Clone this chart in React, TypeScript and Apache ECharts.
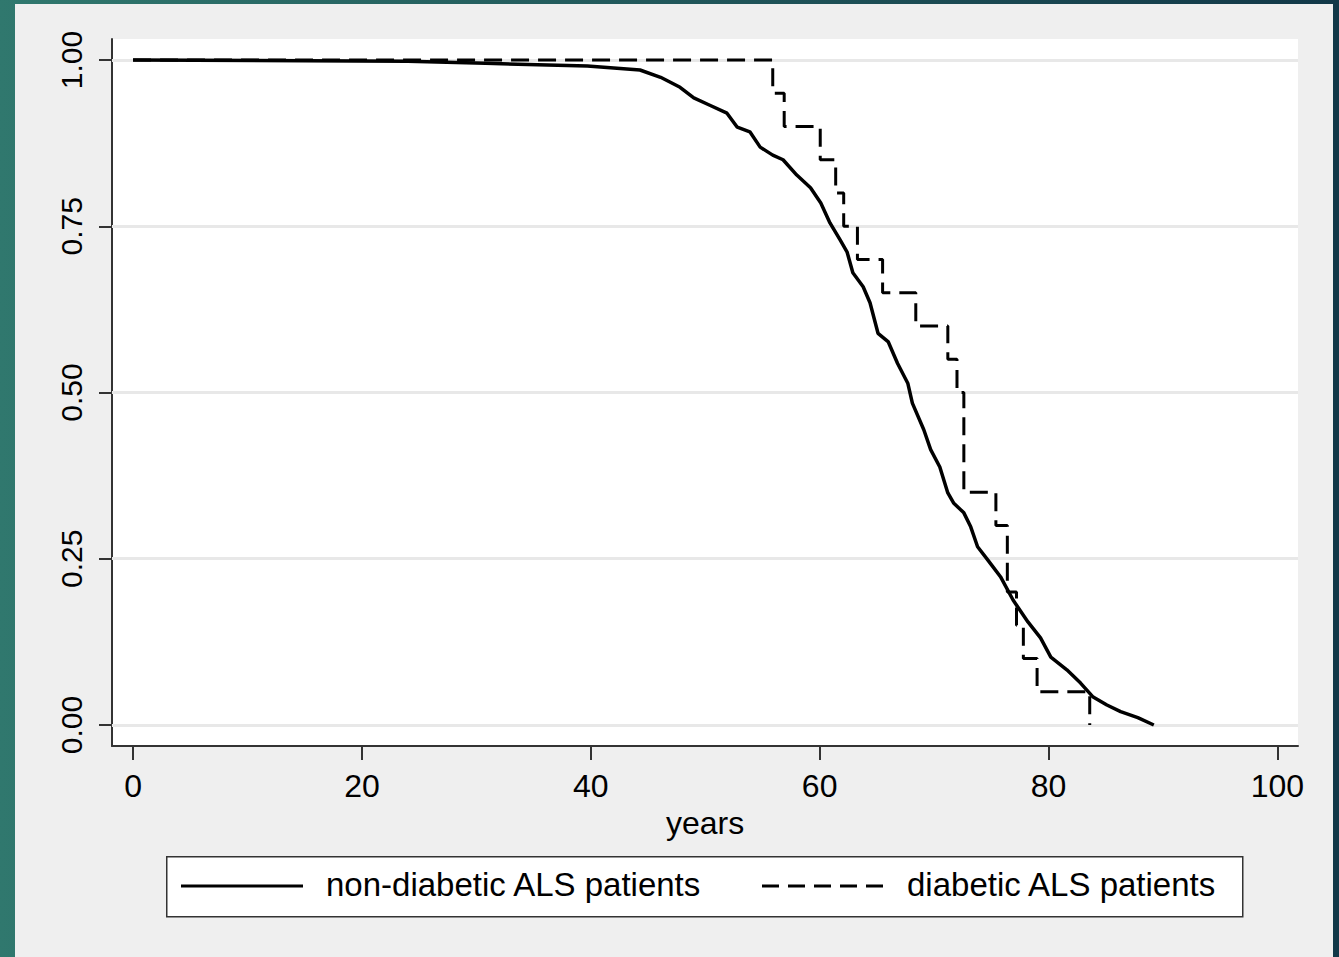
import React, { useEffect, useRef } from "react";
import * as echarts from "echarts";

const xTicks = [0, 20, 40, 60, 80, 100];
const yTicks = [0, 0.25, 0.5, 0.75, 1];
const seriesNames = ["non-diabetic ALS patients", "diabetic ALS patients"];
const xAxisTitle = "years";

const nonDiabeticYears = [
  0, 24, 30.8, 39.7, 42, 44.3, 46.1, 47.8, 49.0, 50.4, 51.9, 52.8, 53.9, 54.8, 55.9, 56.8,
  58.0, 59.2, 60.1, 60.9, 61.8, 62.4, 62.9, 63.8, 64.4, 65.1, 66.0, 66.8, 67.7, 68.1, 69.1,
  69.7, 70.5, 71.2, 71.7, 72.6, 73.2, 73.8, 74.7, 75.8, 76.9, 78.2, 79.3, 80.2, 81.6, 82.8,
  83.9, 85.1, 86.3, 87.8, 89.2,
];
const nonDiabeticSurv = [
  1.0, 0.998, 0.995, 0.991, 0.988, 0.985, 0.974, 0.959, 0.943, 0.932, 0.92, 0.899, 0.892,
  0.869, 0.857, 0.85, 0.827, 0.808, 0.785, 0.755, 0.729, 0.711, 0.68, 0.659, 0.635, 0.589,
  0.576, 0.544, 0.514, 0.484, 0.444, 0.414, 0.388, 0.349, 0.334, 0.319, 0.298, 0.268, 0.248,
  0.223, 0.188, 0.155, 0.131, 0.102, 0.083, 0.063, 0.042, 0.03, 0.02, 0.011, 0.0,
];

const diabeticYears = [
  0, 55.9, 56.9, 60.05, 61.4, 62.1, 63.3, 65.5, 68.4, 71.2, 72.0, 72.6, 75.4, 76.4, 77.2,
  77.8, 79.0, 83.6,
];
const diabeticSurv = [
  1.0, 0.95, 0.9, 0.85, 0.8, 0.75, 0.7, 0.65, 0.6, 0.55, 0.5, 0.35, 0.3, 0.2, 0.15, 0.1,
  0.05, 0.0,
];

const FONT = "'Liberation Sans', Arial, sans-serif";
const DASH = [18, 9];

export default function App() {
  const ref = useRef<HTMLDivElement>(null);

  useEffect(() => {
    if (!ref.current) return;
    const chart = echarts.init(ref.current, undefined, { renderer: "svg" });
    const solidData = nonDiabeticYears.map((x, i) => [x, nonDiabeticSurv[i]]);
    const dashData = diabeticYears.map((x, i) => [x, diabeticSurv[i]]);

    chart.setOption({
      animation: false,
      backgroundColor: "transparent",
      textStyle: { fontFamily: FONT },
      grid: {
        left: 112,
        top: 39,
        right: 41,
        bottom: 211,
        show: true,
        backgroundColor: "#ffffff",
        borderWidth: 0,
      },
      graphic: [
        {
          type: "rect",
          left: 166,
          top: 856,
          shape: { width: 1076, height: 60 },
          style: { fill: "#ffffff", stroke: "#333333", lineWidth: 1.5 },
          z: 10,
        },
        {
          type: "line",
          shape: { x1: 181, y1: 886, x2: 303, y2: 886 },
          style: { stroke: "#000", lineWidth: 3 },
          z: 11,
        },
        {
          type: "text",
          left: 326,
          top: 868,
          style: { text: seriesNames[0], fill: "#000", font: `33px ${FONT}` },
          z: 11,
        },
        {
          type: "line",
          shape: { x1: 762, y1: 886, x2: 885, y2: 886 },
          style: { stroke: "#000", lineWidth: 3, lineDash: [17, 9] },
          z: 11,
        },
        {
          type: "text",
          left: 907,
          top: 868,
          style: { text: seriesNames[1], fill: "#000", font: `33px ${FONT}` },
          z: 11,
        },
      ],
      xAxis: {
        type: "value",
        min: -1.84,
        max: 101.8,
        name: xAxisTitle,
        nameLocation: "middle",
        nameGap: 58,
        nameTextStyle: { fontFamily: FONT, fontSize: 32, color: "#000" },
        axisLine: { show: true, onZero: false, lineStyle: { color: "#333", width: 2 } },
        axisTick: {
          show: true,
          length: 14,
          customValues: xTicks,
          lineStyle: { color: "#333", width: 2 },
        },
        axisLabel: {
          customValues: xTicks,
          margin: 24,
          fontFamily: FONT,
          fontSize: 32,
          color: "#000",
        },
        splitLine: { show: false },
      },
      yAxis: {
        type: "value",
        min: -0.0316,
        max: 1.0316,
        axisLine: { show: true, onZero: false, lineStyle: { color: "#333", width: 2 } },
        axisTick: {
          show: true,
          length: 13,
          customValues: yTicks,
          lineStyle: { color: "#333", width: 2 },
        },
        axisLabel: {
          customValues: yTicks,
          rotate: 90,
          margin: 26,
          fontFamily: FONT,
          fontSize: 30,
          color: "#000",
          formatter: (v: number) => v.toFixed(2),
        },
        splitLine: { show: false },
      },
      series: [
        {
          name: "grid",
          type: "line",
          data: [],
          silent: true,
          z: 1,
          markLine: {
            silent: true,
            z: 1,
            symbol: "none",
            label: { show: false },
            lineStyle: { color: "#e8e8e8", width: 3, type: "solid" },
            data: yTicks.map((v) => ({ yAxis: v })),
          },
        },
        {
          name: seriesNames[1],
          type: "line",
          step: "end",
          data: dashData,
          showSymbol: false,
          symbol: "none",
          z: 3,
          lineStyle: { color: "#000", width: 3, type: DASH },
          itemStyle: { color: "#000" },
        },
        {
          name: seriesNames[0],
          type: "line",
          data: solidData,
          showSymbol: false,
          symbol: "none",
          z: 4,
          lineStyle: { color: "#000", width: 3.5, type: "solid" },
          itemStyle: { color: "#000" },
        },
      ],
    });
    return () => chart.dispose();
  }, []);

  return (
    <div
      style={{
        position: "fixed",
        left: 0,
        top: 0,
        width: 1339,
        height: 957,
        background: "linear-gradient(to right, #30786e 0%, #225a5c 45%, #123848 100%)",
        overflow: "hidden",
      }}
    >
      <div
        style={{
          position: "absolute",
          left: 15,
          top: 4,
          width: 1318,
          height: 953,
          background: "#efefef",
        }}
      />
      <div ref={ref} style={{ position: "absolute", left: 0, top: 0, width: 1339, height: 957 }} />
    </div>
  );
}
